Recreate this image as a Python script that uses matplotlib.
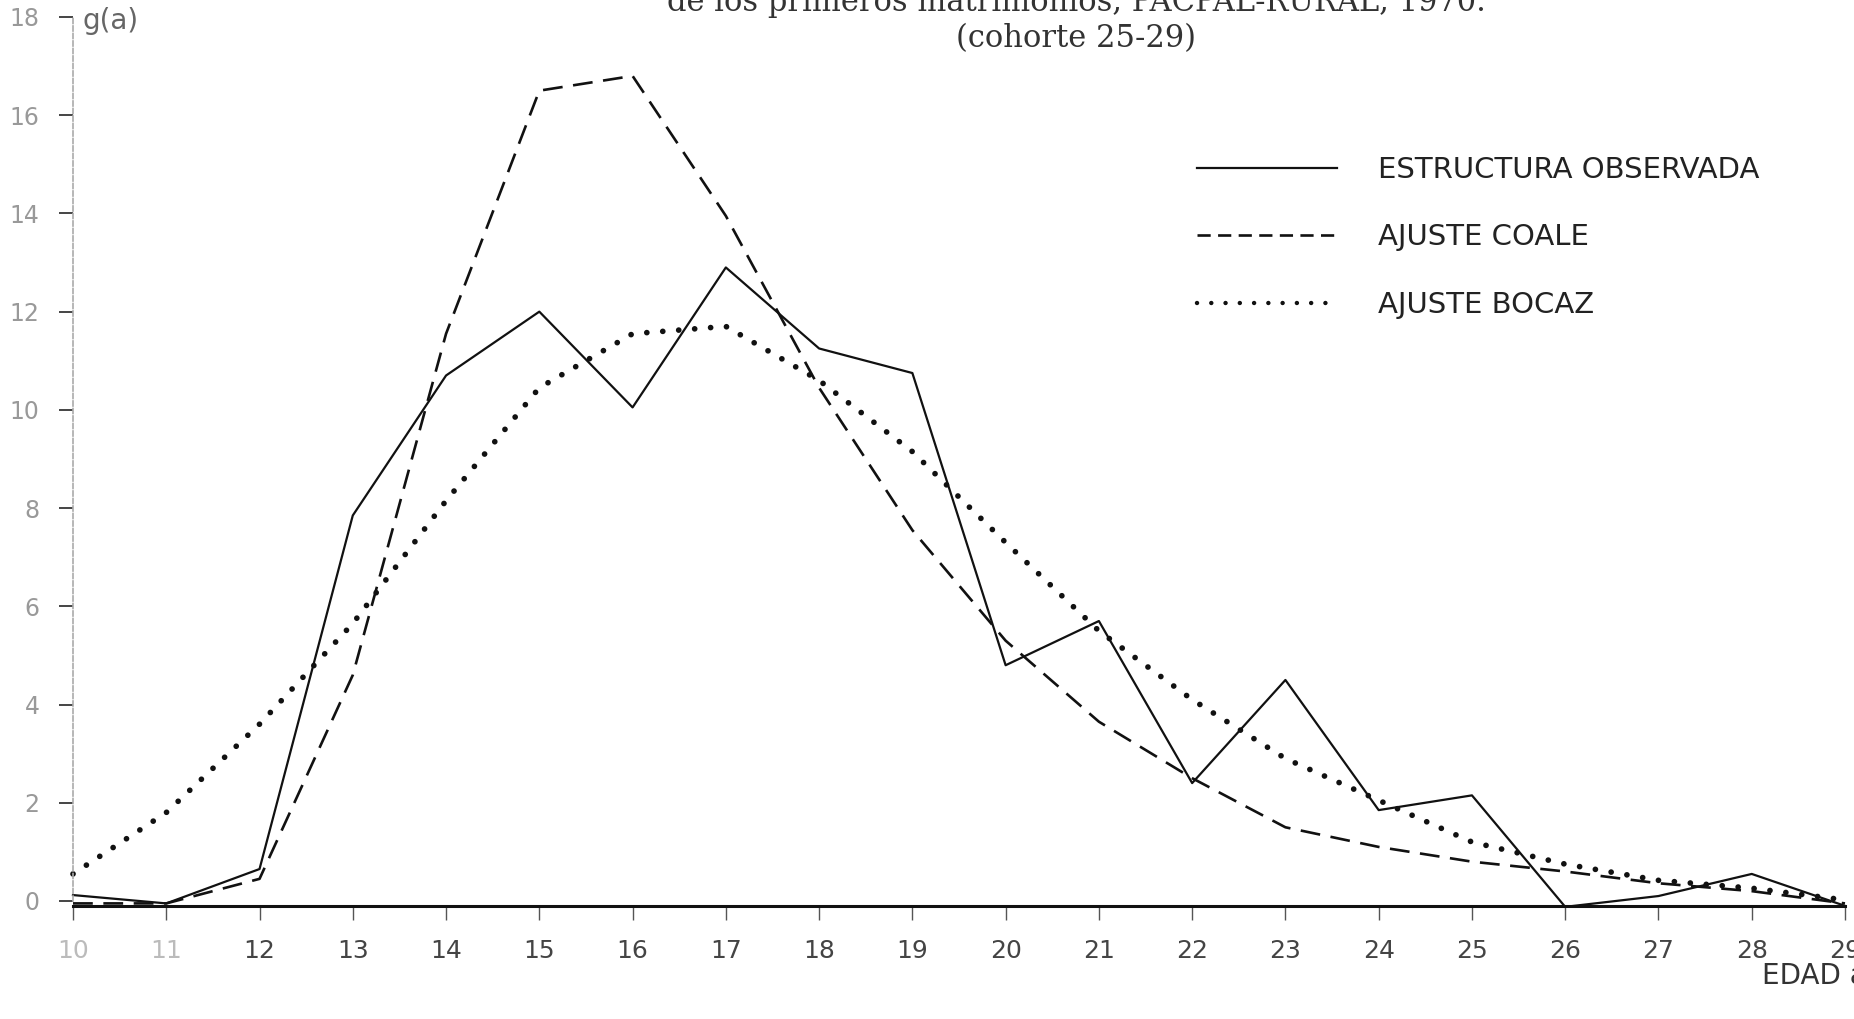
import numpy as np
import matplotlib.pyplot as plt
from matplotlib.lines import Line2D

# edades y valores de g(a)
edades = np.arange(10, 30)
observada = [0.12, -0.05, 0.65, 7.85, 10.7, 12.0, 10.05, 12.9, 11.25, 10.75,
             4.8, 5.7, 2.4, 4.5, 1.85, 2.15, -0.12, 0.1, 0.55, -0.1]
coale = [-0.05, -0.05, 0.45, 4.6, 11.55, 16.5, 16.8, 13.95, 10.45, 7.55,
         5.3, 3.65, 2.5, 1.5, 1.1, 0.8, 0.6, 0.36, 0.2, -0.05]
bocaz = [0.55, 1.8, 3.6, 5.65, 8.15, 10.45, 11.55, 11.7, 10.6, 9.15,
         7.3, 5.5, 4.1, 2.9, 2.05, 1.2, 0.75, 0.42, 0.26, 0.02]
etiquetas = ['ESTRUCTURA OBSERVADA', 'AJUSTE COALE', 'AJUSTE BOCAZ']
yticks = np.arange(0, 19, 2)

W, H = 1854, 1019
fig = plt.figure(figsize=(W / 100, H / 100), dpi=100)
ax = fig.add_axes([73 / W, 0.09657, 1772 / W, 0.88675])

punteado = dict(color='#111', lw=4.1, linestyle=(0, (0.01, 2.8)), dash_capstyle='round')
ax.plot(edades, observada, color='#111', lw=1.6, clip_on=False)
ax.plot(edades, coale, color='#111', lw=1.9, linestyle=(0, (7.5, 4)), clip_on=False)
ax.plot(edades, bocaz, clip_on=False, **punteado)

ax.set_xlim(10, 29)
ax.set_ylim(-0.4, 18)

for s in ['top', 'right']:
    ax.spines[s].set_visible(False)
ax.spines['bottom'].set_position(('data', -0.1))
ax.spines['bottom'].set_linewidth(2.2)
ax.spines['bottom'].set_color('#111')
ax.spines['left'].set_color('#aaa')
ax.spines['left'].set_linewidth(1.2)
ax.spines['left'].set_linestyle((0, (3, 1.5)))
ax.spines['left'].set_bounds(0, 18)

ax.set_xticks(edades)
ax.set_xticklabels([str(e) for e in edades], fontsize=18, color='#444')
ax.tick_params(axis='x', direction='out', length=10, width=1, color='#555', pad=14)
ax.set_yticks(yticks)
ax.set_yticklabels([str(v) for v in yticks], fontsize=17, color='#999')
ax.tick_params(axis='y', direction='out', length=10, width=1.4, color='#444', pad=14)
for t in ax.get_xticklabels()[:2]:
    t.set_color('#bbb')

# muestras de la leyenda con trazos mas cortos
muestras = [Line2D([], [], color='#111', lw=1.6),
            Line2D([], [], color='#111', lw=1.9, linestyle=(0, (5, 2.8))),
            Line2D([], [], color='#111', lw=3.2, linestyle=(0, (0.01, 3.2)),
                   dash_capstyle='round')]
ax.legend(muestras, etiquetas, loc='upper left',
          bbox_to_anchor=(1197 / W, 1 - 156 / H), bbox_transform=fig.transFigure,
          frameon=False, fontsize=21, handlelength=4.8, handletextpad=1.4,
          labelspacing=1.35, borderpad=0, borderaxespad=0, labelcolor='#222')

fig.text(1076 / W, 1 - 3 / H, 'de los primeros matrimonios, PACPAL-RURAL, 1970.',
         ha='center', va='center', fontsize=22, family='DejaVu Serif', color='#333')
fig.text(1076 / W, 1 - 39 / H, '(cohorte 25-29)', ha='center', va='center',
         fontsize=22, family='DejaVu Serif', color='#333')
fig.text(82 / W, 1 - 21 / H, 'g(a)', ha='left', va='center', fontsize=20, color='#666')
fig.text(1762 / W, 1 - 976 / H, 'EDAD a', ha='left', va='center', fontsize=20, color='#333')

fig.savefig('out.png', dpi=100)
